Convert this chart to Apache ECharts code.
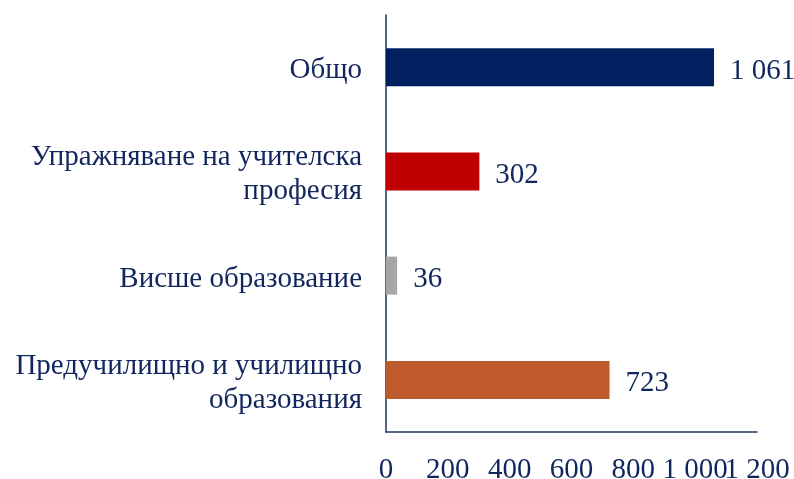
<!DOCTYPE html>
<html>
<head>
<meta charset="utf-8">
<script src="https://cdn.jsdelivr.net/npm/echarts@6/dist/echarts.min.js"></script>
<style>
  html, body { margin: 0; padding: 0; background: #fff; }
  #chart { width: 794px; height: 479px; }
</style>
</head>
<body>
<div id="chart"></div>
<script>
// категории отдолу нагоре
var categories = [
  'Предучилищно и училищно\nобразования',
  'Висше образование',
  'Упражняване на учителска\nпрофесия',
  'Общо'
];
var values = [723, 36, 302, 1061];
var barColors = ['#BF5A2D', '#A6A6A6', '#C00000', '#002060'];
var xTicks = [0, 200, 400, 600, 800, 1000, 1200];

var textColor = '#12265E';
var axisColor = '#1F3264';
var xMax = xTicks[xTicks.length - 1];

function fmt(v) {
  return String(v).replace(/\B(?=(\d{3})+(?!\d))/g, ' ');
}

function xLabel(extra) {
  return {
    color: textColor,
    fontSize: 29,
    fontFamily: 'Liberation Serif',
    margin: 24,
    hideOverlap: false,
    showMinLabel: true,
    showMaxLabel: true,
    formatter: extra
  };
}

var chart = echarts.init(document.getElementById('chart'));
chart.setOption({
  animation: false,
  textStyle: {
    fontFamily: 'Liberation Serif'
  },
  grid: {
    left: 386,
    right: 37,
    top: 15,
    bottom: 47,
    containLabel: false,
    outerBoundsMode: 'none'
  },
  xAxis: [{
    type: 'value',
    position: 'bottom',
    min: xTicks[0],
    max: xMax,
    interval: 200,
    splitLine: { show: false },
    axisTick: { show: false },
    axisLine: { show: true, lineStyle: { color: axisColor, width: 1.5 } },
    // последният етикет се рисува от втората ос, за да не се скрие „1 000“
    axisLabel: xLabel(function (v) { return v === xMax ? '' : fmt(v); })
  }, {
    type: 'value',
    position: 'bottom',
    min: xTicks[0],
    max: xMax,
    interval: 200,
    splitLine: { show: false },
    axisTick: { show: false },
    axisLine: { show: false },
    axisLabel: xLabel(function (v) { return v === xMax ? fmt(v) : ''; })
  }],
  yAxis: {
    type: 'category',
    data: categories,
    axisTick: { show: false },
    axisLine: { show: true, lineStyle: { color: axisColor, width: 1.5 } },
    axisLabel: {
      color: textColor,
      fontSize: 29,
      fontFamily: 'Liberation Serif',
      margin: 24,
      lineHeight: 34,
      align: 'right',
      formatter: function (v) {
        return v.split('\n').map(function (s) { return '{t|' + s + '}'; }).join('\n');
      },
      rich: {
        t: {
          color: textColor,
          fontSize: 29,
          fontFamily: 'Liberation Serif',
          lineHeight: 34,
          padding: [7, 0, 0, 0]
        }
      }
    }
  },
  series: [{
    type: 'bar',
    xAxisIndex: 0,
    barWidth: 38,
    data: values.map(function (v, i) {
      return { value: v, itemStyle: { color: barColors[i] } };
    }),
    label: {
      show: true,
      position: 'right',
      distance: 16,
      offset: [0, 4],
      color: textColor,
      fontSize: 29,
      fontFamily: 'Liberation Serif',
      formatter: function (p) { return fmt(p.value); }
    }
  }]
});
</script>
</body>
</html>
